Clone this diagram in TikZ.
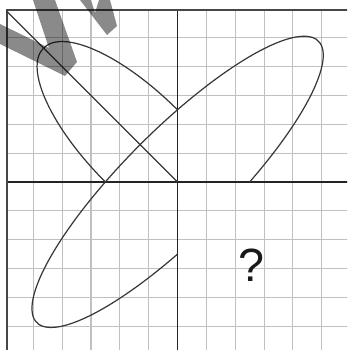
\documentclass[tikz,border=0pt]{standalone}
\usepackage{fontspec}
\setmainfont{Liberation Sans}
\usetikzlibrary{calc}
\definecolor{GridGray}{RGB}{192,192,192}
\definecolor{AxisDark}{RGB}{35,35,35}
\definecolor{CurveDark}{RGB}{55,55,55}

\begin{document}
\begin{tikzpicture}[gridline/.style={draw=GridGray,line width=1.1pt},
  axisline/.style={draw=AxisDark,line width=1.1pt},
  frameline/.style={draw=black!72,line width=1.3pt},
  curve/.style={draw=CurveDark,line width=1.2pt,line cap=round},
  stamp/.style={fill=black,fill opacity=0.46}]
\clip (-6.153,-5.823) rectangle (5.875,6.308);
\coordinate (O) at (0,0); \coordinate (cnr) at (-5.91,5.96); \coordinate (dtop) at (-5.91,5.91);
\coordinate (xneg) at (-2.5,0); \coordinate (xpos) at (2.5,0);
\coordinate (ypos) at (0,2.5); \coordinate (yneg) at (0,-2.5);
\draw[gridline] (-5.91,-6) grid (6,5.96);
\draw[axisline] (-5.91,0)--(6,0); \draw[axisline] (0,-6)--(0,5.96);
\draw[frameline] (-5.91,-6)--(cnr)--(6,5.96);
\draw[curve] (O)--(dtop);
\draw[curve,rotate=135] (xneg) arc[start angle=90,end angle=-90,x radius=4.8,y radius=1.7678];
\draw[curve,rotate=45] (xpos) arc[start angle=-75.2,end angle=255.2,x radius=6.9,y radius=1.83];
\node[font=\fontsize{46}{50}\selectfont,text=black!90,inner sep=0pt] (qmark) at (2.55,-2.88) {?};
\begin{scope}[shift={(-6.153,6.308)},x=0.3466mm,y=-0.3466mm]
\fill[stamp] (0,24)--(49,48)--(33,0)--(55,0)--(77,62)--(65,76)--(0,44)--cycle;
\fill[stamp] (80,0)--(91,0)--(95,13)--(99,0)--(110,0)--(117,26)--(107,35)--cycle;
\end{scope}
\end{tikzpicture}
\end{document}
